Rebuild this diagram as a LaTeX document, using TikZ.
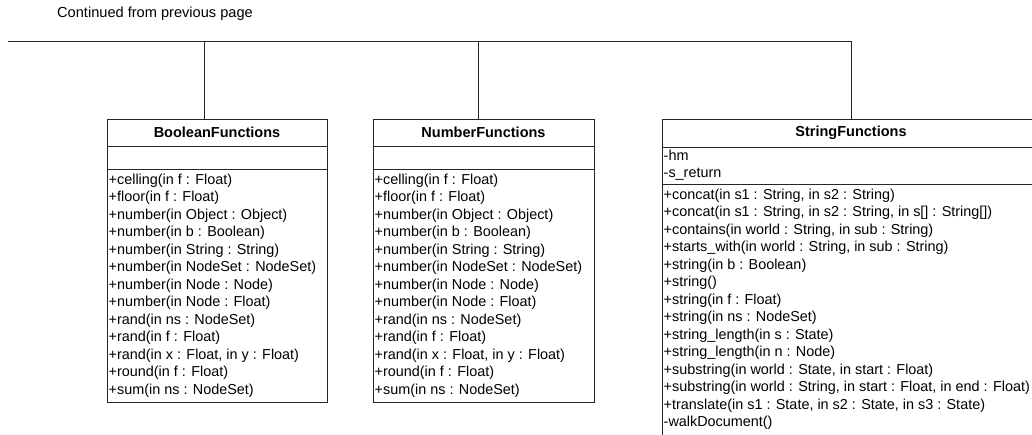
\documentclass[tikz,border=0pt]{standalone}
\usepackage{fontspec}
\setmainfont{Liberation Sans}
\begin{document}
\begin{tikzpicture}[x=1pt,y=-1pt,
  wire/.style={draw=black!85,line width=0.9pt},
  umlbox/.style={draw=black!85,line width=0.9pt,rectangle,inner sep=0pt,anchor=north west},
  ctitle/.style={font=\bfseries\fontsize{14.5}{16}\selectfont,inner sep=0pt},
  member/.style={font=\fontsize{14.4}{16}\selectfont,inner sep=0pt,anchor=mid west},
  note/.style={font=\fontsize{14.6}{16}\selectfont,inner sep=0pt,anchor=mid west}]
\useasboundingbox (0,0) rectangle (1032,434);
\clip (0,0) rectangle (1032,434);

\node[note] (cont) at (57,15) {Continued from previous page};

% class frames
\node[umlbox,minimum width=220pt,minimum height=283pt] (bool) at (107,119) {};
\node[umlbox,minimum width=221pt,minimum height=283pt] (num) at (373,119) {};
\node[umlbox,minimum width=378pt,minimum height=330pt] (str) at (662,119) {};

% compartment separators
\draw[wire] ([yshift=-27pt]bool.north west) -- ([yshift=-27pt]bool.north east);
\draw[wire] ([yshift=-50pt]bool.north west) -- ([yshift=-50pt]bool.north east);
\draw[wire] ([yshift=-27pt]num.north west) -- ([yshift=-27pt]num.north east);
\draw[wire] ([yshift=-50pt]num.north west) -- ([yshift=-50pt]num.north east);
\draw[wire] ([yshift=-28pt]str.north west) -- ([yshift=-28pt]str.north east);
\draw[wire] ([yshift=-65pt]str.north west) -- ([yshift=-65pt]str.north east);

% class names
\node[ctitle] (boolT) at (217,132.5) {BooleanFunctions};
\node[ctitle] (numT) at (483.5,132.5) {NumberFunctions};
\node[ctitle] (strT) at (851,132.5) {StringFunctions};

% operations
\def\mathops{+celling(in f : Float), +floor(in f : Float),
  +number(in Object : Object), +number(in b : Boolean),
  +number(in String : String), +number(in NodeSet : NodeSet),
  +number(in Node : Node), +number(in Node : Float),
  +rand(in ns : NodeSet), +rand(in f : Float),
  {+rand(in x : Float, in y : Float)}, +round(in f : Float),
  +sum(in ns : NodeSet)}
\foreach \t [count=\i] in \mathops {
  \node[member] (bm\i) at (108.5,{181.5+(\i-1)*17.5}) {\t};
  \node[member] (nm\i) at (374.5,{181.5+(\i-1)*17.5}) {\t};
}

% string attributes and operations
\node[member] (sa1) at (663.5,157.5) {-hm};
\node[member] (sa2) at (663.5,174.5) {-s\_return};
\def\strops{{+concat(in s1 : String, in s2 : String)},
  {+concat(in s1 : String, in s2 : String, in s[] : String[])},
  {+contains(in world : String, in sub : String)},
  {+starts\_with(in world : String, in sub : String)},
  +string(in b : Boolean), +string(), +string(in f : Float),
  +string(in ns : NodeSet), +string\_length(in s : State),
  +string\_length(in n : Node),
  {+substring(in world : State, in start : Float)},
  {+substring(in world : String, in start : Float, in end : Float)},
  {+translate(in s1 : State, in s2 : State, in s3 : State)},
  -walkDocument()}
\foreach \t [count=\i] in \strops {
  \node[member] (sm\i) at (663.5,{196.5+(\i-1)*17.5}) {\t};
}

% generalisation bus from the previous page
\coordinate (busL) at (8,41);
\coordinate (busR) at (851,41);
\coordinate (tapB) at (204,41);
\coordinate (tapN) at (478,41);
\draw[wire] (busL) -- (busR) -- (busR |- str.north);
\draw[wire] (tapB) -- (tapB |- bool.north);
\draw[wire] (tapN) -- (tapN |- num.north);
\end{tikzpicture}
\end{document}
